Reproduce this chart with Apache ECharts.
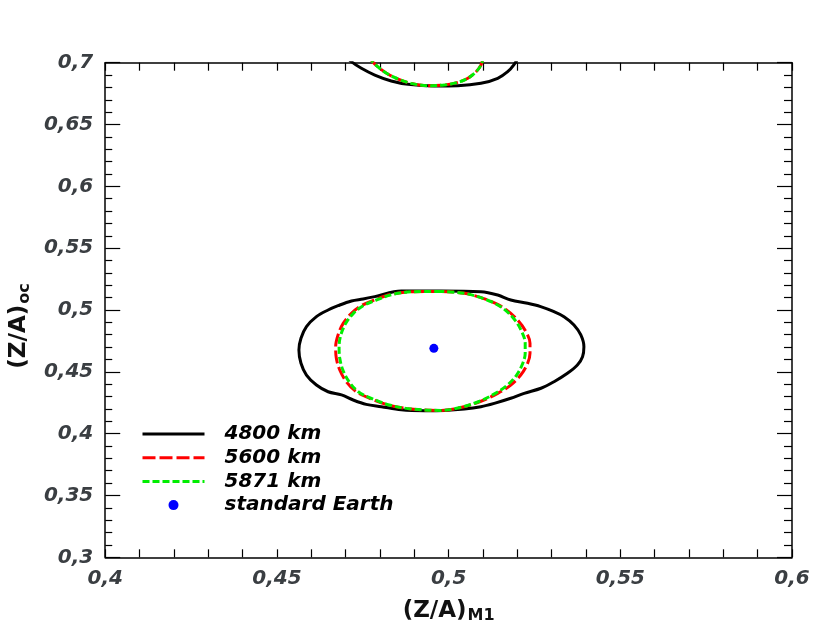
<!DOCTYPE html>
<html>
<head>
<meta charset="utf-8">
<script src="https://cdn.jsdelivr.net/npm/echarts@6/dist/echarts.min.js"></script>
<style>html,body{margin:0;padding:0;background:#fff}#c{width:830px;height:641px}</style>
</head>
<body>
<div id="c"></div>
<script>
// Series names
const seriesNames = ['4800 km', '5600 km', '5871 km', 'standard Earth'];

// Contour 4800 km (black): main loop and upper arc
const black4800Loop = [
  [0.4978,0.5154],[0.4862,0.5154],[0.4785,0.5108],[0.4751,0.5089],[0.4717,0.5073],[0.4678,0.5035],
  [0.4649,0.5000],[0.4615,0.4946],[0.4586,0.4865],[0.4570,0.4771],[0.4564,0.4677],[0.4570,0.4569],
  [0.4586,0.4474],[0.4615,0.4393],[0.4649,0.4339],[0.4688,0.4313],[0.4722,0.4272],[0.4760,0.4237],
  [0.4804,0.4218],[0.4862,0.4193],[0.4930,0.4186],[0.4988,0.4188],[0.5046,0.4199],[0.5094,0.4218],
  [0.5133,0.4245],[0.5181,0.4286],[0.5220,0.4326],[0.5269,0.4367],[0.5307,0.4420],[0.5346,0.4488],
  [0.5375,0.4555],[0.5390,0.4622],[0.5394,0.4703],[0.5385,0.4798],[0.5365,0.4879],[0.5336,0.4946],
  [0.5307,0.4986],[0.5268,0.5027],[0.5230,0.5054],[0.5181,0.5081],[0.5143,0.5121],[0.5094,0.5148],
  [0.4978,0.5154]
];
const black4800Arc = [
  [0.4700,0.7060],[0.4717,0.7008],[0.4746,0.6955],[0.4785,0.6900],[0.4833,0.6852],[0.4882,0.6825],
  [0.4959,0.6812],[0.5027,0.6814],[0.5094,0.6833],[0.5143,0.6874],[0.5172,0.6927],[0.5191,0.6987],
  [0.5205,0.7050]
];

// Contour 5600 km (red dashed)
const red5600Loop = [
  [0.4978,0.5150],[0.4901,0.5148],[0.4833,0.5127],[0.4785,0.5081],[0.4746,0.5035],[0.4717,0.4973],
  [0.4693,0.4892],[0.4678,0.4798],[0.4671,0.4703],[0.4673,0.4609],[0.4683,0.4515],[0.4702,0.4420],
  [0.4731,0.4339],[0.4770,0.4286],[0.4824,0.4232],[0.4891,0.4199],[0.4978,0.4188],[0.5036,0.4212],
  [0.5094,0.4262],[0.5143,0.4326],[0.5181,0.4393],[0.5210,0.4474],[0.5230,0.4569],[0.5237,0.4650],
  [0.5237,0.4731],[0.5225,0.4825],[0.5201,0.4919],[0.5162,0.5014],[0.5114,0.5081],[0.5046,0.5135],
  [0.4978,0.5150]
];
const red5600Arc = [
  [0.4770,0.7050],[0.4780,0.7003],[0.4799,0.6955],[0.4824,0.6906],[0.4853,0.6868],[0.4891,0.6833],
  [0.4940,0.6814],[0.4988,0.6820],[0.5027,0.6841],[0.5056,0.6874],[0.5080,0.6927],[0.5094,0.6980],
  [0.5102,0.7050]
];

// Contour 5871 km (green dotted)
const green5871Loop = [
  [0.4978,0.5150],[0.4901,0.5148],[0.4835,0.5125],[0.4788,0.5079],[0.4750,0.5033],[0.4722,0.4971],
  [0.4700,0.4890],[0.4686,0.4798],[0.4681,0.4703],[0.4683,0.4609],[0.4692,0.4515],[0.4710,0.4420],
  [0.4737,0.4339],[0.4775,0.4286],[0.4827,0.4232],[0.4893,0.4199],[0.4978,0.4188],[0.5034,0.4212],
  [0.5090,0.4262],[0.5136,0.4326],[0.5171,0.4393],[0.5198,0.4474],[0.5216,0.4569],[0.5223,0.4650],
  [0.5223,0.4731],[0.5213,0.4825],[0.5193,0.4919],[0.5158,0.5014],[0.5112,0.5081],[0.5046,0.5135],
  [0.4978,0.5150]
];
const green5871Arc = [
  [0.4770,0.7050],[0.4780,0.7003],[0.4799,0.6955],[0.4824,0.6906],[0.4853,0.6868],[0.4891,0.6833],
  [0.4940,0.6814],[0.4988,0.6820],[0.5027,0.6841],[0.5056,0.6874],[0.5080,0.6927],[0.5094,0.6980],
  [0.5102,0.7050]
];

// Standard Earth point
const standardEarth = [[0.4957, 0.4690]];

// Axis ranges
const xRange = [0.4, 0.6];
const yRange = [0.3, 0.7];

const fmt = v => parseFloat(v.toFixed(3)).toString().replace('.', ',');
const FONT = 'DejaVu Sans';
const labelStyle = {fontFamily: FONT, fontWeight: 'bold', fontStyle: 'italic', fontSize: 20, color: '#3a3e42'};
const nameRich = {
  m: {fontFamily: FONT, fontWeight: 'bold', fontSize: 23, color: '#111'},
  s: {fontFamily: FONT, fontWeight: 'bold', fontSize: 16, color: '#111', verticalAlign: 'bottom', padding: [11, 0, 0, 1]}
};

const chart = echarts.init(document.getElementById('c'), null, {renderer: 'canvas'});

const lineCommon = (name, data, color, type, z) => ({
  name, type: 'line', data, symbol: 'none', smooth: 0.35, clip: true, z,
  lineStyle: {color, width: 3, type}, itemStyle: {color}, animation: false
});

chart.setOption({
  animation: false,
  backgroundColor: '#fff',
  grid: {left: 103, right: 38, top: 62.7, bottom: 83.7, containLabel: false},
  legend: {
    orient: 'vertical', left: 136, top: 419, itemWidth: 62, itemHeight: 10, itemGap: 3.7,
    data: [
      {name: seriesNames[0], itemStyle: {opacity: 0}},
      {name: seriesNames[1], itemStyle: {opacity: 0}},
      {name: seriesNames[2], itemStyle: {opacity: 0}},
      {name: seriesNames[3]}
    ],
    lineStyle: {width: 3},
    textStyle: {fontFamily: FONT, fontWeight: 'bold', fontStyle: 'italic', fontSize: 20, lineHeight: 20, color: '#000', padding: [0, 0, 0, 15]},
    selectedMode: false
  },
  xAxis: [{
    type: 'value', min: xRange[0], max: xRange[1], interval: 0.05, position: 'bottom',
    name: '{m|(Z/A)}{s|M1}', nameLocation: 'middle', nameGap: 40,
    nameTextStyle: {rich: nameRich},
    axisLine: {show: true, lineStyle: {color: '#000', width: 1.5}},
    axisTick: {show: true, inside: true, length: 8, lineStyle: {color: '#000', width: 1.2}},
    minorTick: {show: true, splitNumber: 5, length: 8, lineStyle: {color: '#000', width: 1.2}},
    axisLabel: {...labelStyle, margin: 11, formatter: fmt},
    splitLine: {show: false}
  }, {
    type: 'value', min: xRange[0], max: xRange[1], interval: 0.05, position: 'top',
    axisLine: {show: true, lineStyle: {color: '#000', width: 1.5}},
    axisTick: {show: true, inside: true, length: 8, lineStyle: {color: '#000', width: 1.2}},
    minorTick: {show: true, splitNumber: 5, length: 8, lineStyle: {color: '#000', width: 1.2}},
    axisLabel: {show: false}, splitLine: {show: false}
  }],
  yAxis: [{
    type: 'value', min: yRange[0], max: yRange[1], interval: 0.05, position: 'left',
    name: '{m|(Z/A)}{s|oc}', nameLocation: 'middle', nameGap: 66, nameRotate: 90,
    nameTextStyle: {rich: nameRich, padding: [0, 32, 0, 0]},
    axisLine: {show: true, lineStyle: {color: '#000', width: 1.5}},
    axisTick: {show: true, inside: true, length: 15, lineStyle: {color: '#000', width: 1.2}},
    minorTick: {show: true, splitNumber: 5, length: 7, lineStyle: {color: '#000', width: 1.2}},
    axisLabel: {...labelStyle, margin: 12, formatter: fmt},
    splitLine: {show: false}
  }, {
    type: 'value', min: yRange[0], max: yRange[1], interval: 0.05, position: 'right',
    axisLine: {show: true, lineStyle: {color: '#000', width: 1.5}},
    axisTick: {show: true, inside: true, length: 15, lineStyle: {color: '#000', width: 1.2}},
    minorTick: {show: true, splitNumber: 5, length: 8, lineStyle: {color: '#000', width: 1.2}},
    axisLabel: {show: false}, splitLine: {show: false}
  }],
  series: [
    lineCommon(seriesNames[0], black4800Loop, '#000', 'solid', 2),
    lineCommon(seriesNames[0], black4800Arc, '#000', 'solid', 2),
    lineCommon(seriesNames[1], red5600Loop, '#ff0000', [13, 4], 3),
    lineCommon(seriesNames[1], red5600Arc, '#ff0000', [13, 4], 3),
    lineCommon(seriesNames[2], green5871Loop, '#00ee00', [7, 3], 4),
    lineCommon(seriesNames[2], green5871Arc, '#00ee00', [7, 3], 4),
    {name: seriesNames[3], type: 'scatter', data: standardEarth, symbol: 'circle', symbolSize: 9,
     itemStyle: {color: '#0000ff', opacity: 1}, z: 5}
  ]
});
</script>
</body>
</html>
